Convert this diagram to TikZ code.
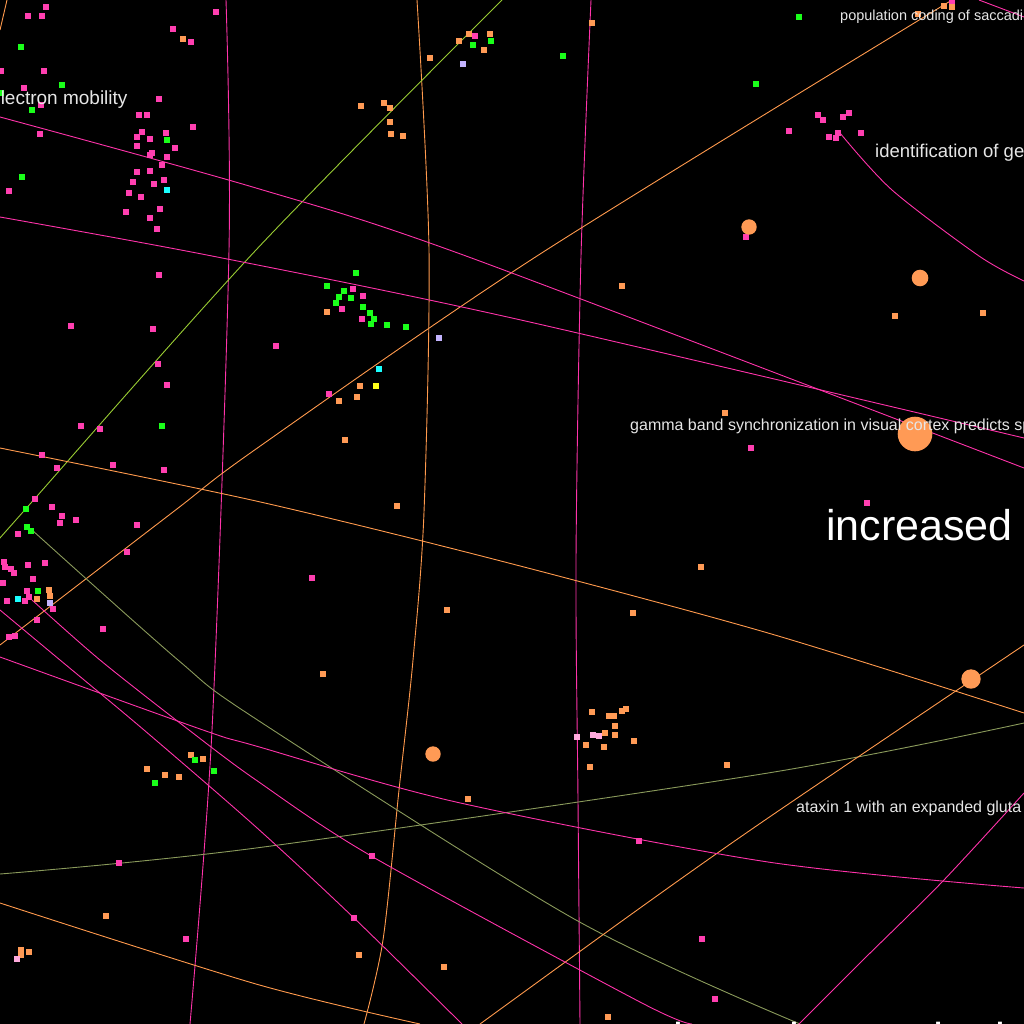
\documentclass[tikz,border=0pt]{standalone}
\usepackage{fontspec}
\setmainfont{Liberation Sans}
\definecolor{linkpink}{HTML}{FF33AA}
\definecolor{linkorange}{HTML}{FF9A4D}
\definecolor{linkolive}{HTML}{8A9A5B}
\definecolor{linklime}{HTML}{99CC33}
\definecolor{dotpink}{HTML}{FF3FB0}
\definecolor{dotorange}{HTML}{FF9A55}
\definecolor{dotgreen}{HTML}{1AFF1A}
\definecolor{dotcyan}{HTML}{1AFFFF}
\definecolor{dotlilac}{HTML}{C4B4FF}
\definecolor{dotyellow}{HTML}{FFFF1A}
\definecolor{dotrose}{HTML}{FFAADD}
\definecolor{labelgrey}{HTML}{E6E6E6}
\newcommand{\labelsize}[1]{\fontsize{#1}{#1}\selectfont}

\begin{document}
\begin{tikzpicture}[x=1pt,y=-1pt,
pinkline/.style={draw=linkpink,line width=0.9pt},
orangeline/.style={draw=linkorange,line width=0.9pt},
oliveline/.style={draw=linkolive,line width=0.9pt},
limeline/.style={draw=linklime,line width=0.9pt},
hub/.style={fill=dotorange},
title/.style={text=labelgrey,inner sep=0pt,anchor=base west}]
\useasboundingbox (0,0) rectangle (1024,1024);
\fill[black] (0,0) rectangle (1024,1024);
\clip (0,0) rectangle (1024,1024);

%links
\draw[pinkline] plot[smooth] coordinates {(226,0) (229,250) (212,730) (190,1024)};
\draw[orangeline] plot[smooth] coordinates {(417,0) (429,250) (424,512) (413,660) (399,790) (383,940) (364,1024)};
\draw[pinkline] plot[smooth] coordinates {(591,0) (581,256) (576,560) (578,800) (580,1024)};
\draw[limeline] plot[smooth] coordinates {(502,0) (256,250) (23,512) (0,538)};
\draw[orangeline] plot[smooth] coordinates {(952,0) (537,256) (256,449) (173,512) (0,645)};
\draw[orangeline] plot[smooth] coordinates {(0,448) (256,501) (497,560) (768,633) (1024,713)};
\draw[pinkline] plot[smooth] coordinates {(0,117) (256,188) (466,256) (1024,468)};
\draw[pinkline] plot[smooth] coordinates {(0,217) (212,256) (512,318) (1024,438)};
\draw[pinkline] plot[smooth] coordinates {(840,133) (892,190) (979,256) (1024,281)};
\draw[pinkline] (979,0) -- (1024,17);
\draw[orangeline] (7,0) -- (0,30);
\draw[oliveline] plot[smooth] coordinates {(32,530) (178,660) (256,719) (576,920) (800,1024)};
\draw[oliveline] plot[smooth] coordinates {(0,874) (256,848) (768,773) (1024,723)};
\draw[orangeline] plot[smooth] coordinates {(0,903) (256,984) (420,1024)};
\draw[orangeline] plot[smooth] coordinates {(480,1024) (640,908) (768,818) (1024,645)};
\draw[pinkline] plot[smooth] coordinates {(799,1024) (863,960) (942,882) (1024,793)};
\draw[pinkline] plot[smooth] coordinates {(0,610) (60,660) (144,730) (256,827) (354,918) (462,1024)};
\draw[pinkline] plot[smooth] coordinates {(32,600) (100,660) (189,730) (256,780) (373,857) (640,1002) (692,1024)};
\draw[pinkline] plot[smooth] coordinates {(0,657) (203,730) (256,746) (456,802) (768,862) (1024,888)};

%papers
\foreach \x/\y in {46/7,28/16,42/16,216/12,173/29,191/42,1/71,44/71,24/88,159/99,41/105,139/115,147/115,
  193/127,40/134,142/132,137/137,166/133,150/139,175/148,137/146,152/153,150/155,167/157,162/165,137/172,
  150/171,164/180,133/182,154/184,129/193,141/197,9/191,160/209,126/212,150/218,157/229,475/36,
  818/115,823/120,843/117,849/113,789/131,829/137,836/138,838/133,861/133,746/237,952/2,
  159/275,71/326,153/329,158/364,167/385,81/426,100/429,42/455,57/468,113/465,164/470,35/499,52/507,
  353/289,363/296,342/309,362/319,276/346,329/394,62/516,76/520,60/523,18/534,137/525,127/552,
  4/562,5/567,11/569,14/573,28/565,45/563,33/579,3/583,27/591,7/601,29/597,25/601,53/609,37/620,
  103/629,15/636,9/637,751/448,867/503,312/578,639/841,372/856,354/918,702/939,715/999,119/863,186/939}
  \fill[dotpink] (\x,\y) ++(-3,-3) rectangle ++(6,6);
\foreach \x/\y in {183/39,469/34,490/34,459/41,484/50,430/58,361/106,384/103,390/108,390/122,391/134,
  403/136,592/23,944/6,952/7,918/14,327/312,360/386,357/397,339/401,345/440,397/506,49/590,50/596,
  37/599,622/286,895/316,983/313,725/413,701/567,447/610,633/613,323/674,592/712,609/716,614/716,
  622/711,626/709,615/726,605/733,615/735,586/745,604/747,634/741,590/767,727/765,468/799,359/955,
  444/967,608/1017,191/755,203/759,147/769,165/775,179/777,106/916,21/950,21/955,29/952}
  \fill[dotorange] (\x,\y) ++(-3,-3) rectangle ++(6,6);
\foreach \x/\y in {21/47,62/85,1/93,32/110,167/140,22/177,473/45,491/41,563/56,799/17,756/84,
  356/273,327/286,344/291,339/297,351/298,336/303,363/307,370/313,374/319,371/324,387/325,406/327,
  162/426,26/509,27/527,31/531,38/591,195/760,214/771,155/783}
  \fill[dotgreen] (\x,\y) ++(-3,-3) rectangle ++(6,6);
\foreach \x/\y in {167/190,379/369,18/599}
  \fill[dotcyan] (\x,\y) ++(-3,-3) rectangle ++(6,6);
\foreach \x/\y in {463/64,439/338,50/603}
  \fill[dotlilac] (\x,\y) ++(-3,-3) rectangle ++(6,6);
\foreach \x/\y in {577/737,593/735,599/736,17/959}
  \fill[dotrose] (\x,\y) ++(-3,-3) rectangle ++(6,6);
\fill[dotyellow] (376,386) ++(-3,-3) rectangle ++(6,6);

%hubs
\fill[hub] (749,227) circle (7.7);
\fill[hub] (920,278) circle (8.3);
\fill[hub] (915,434) circle (17.3);
\fill[hub] (971,679) circle (9.7);
\fill[hub] (433,754) circle (7.7);

%titles
\node[title,font=\labelsize{19}] (elec) at (-10,105) {electron mobility};
\node[title,font=\labelsize{14.5}] (pop) at (840,21) {population coding of saccadi};
\node[title,font=\labelsize{18.5}] (ident) at (875,158) {identification of ge};
\node[title,font=\labelsize{16}] (gamma) at (630,430) {gamma band synchronization in visual cortex predicts sp};
\node[title,font=\labelsize{43},text=white] (incr) at (826,540) {increased};
\node[title,font=\labelsize{16}] (ataxin) at (796,812) {ataxin 1 with an expanded gluta};
\node[title,font=\labelsize{44.6},text=white] (invest) at (673,1054) {investigates the i};
\end{tikzpicture}
\end{document}
